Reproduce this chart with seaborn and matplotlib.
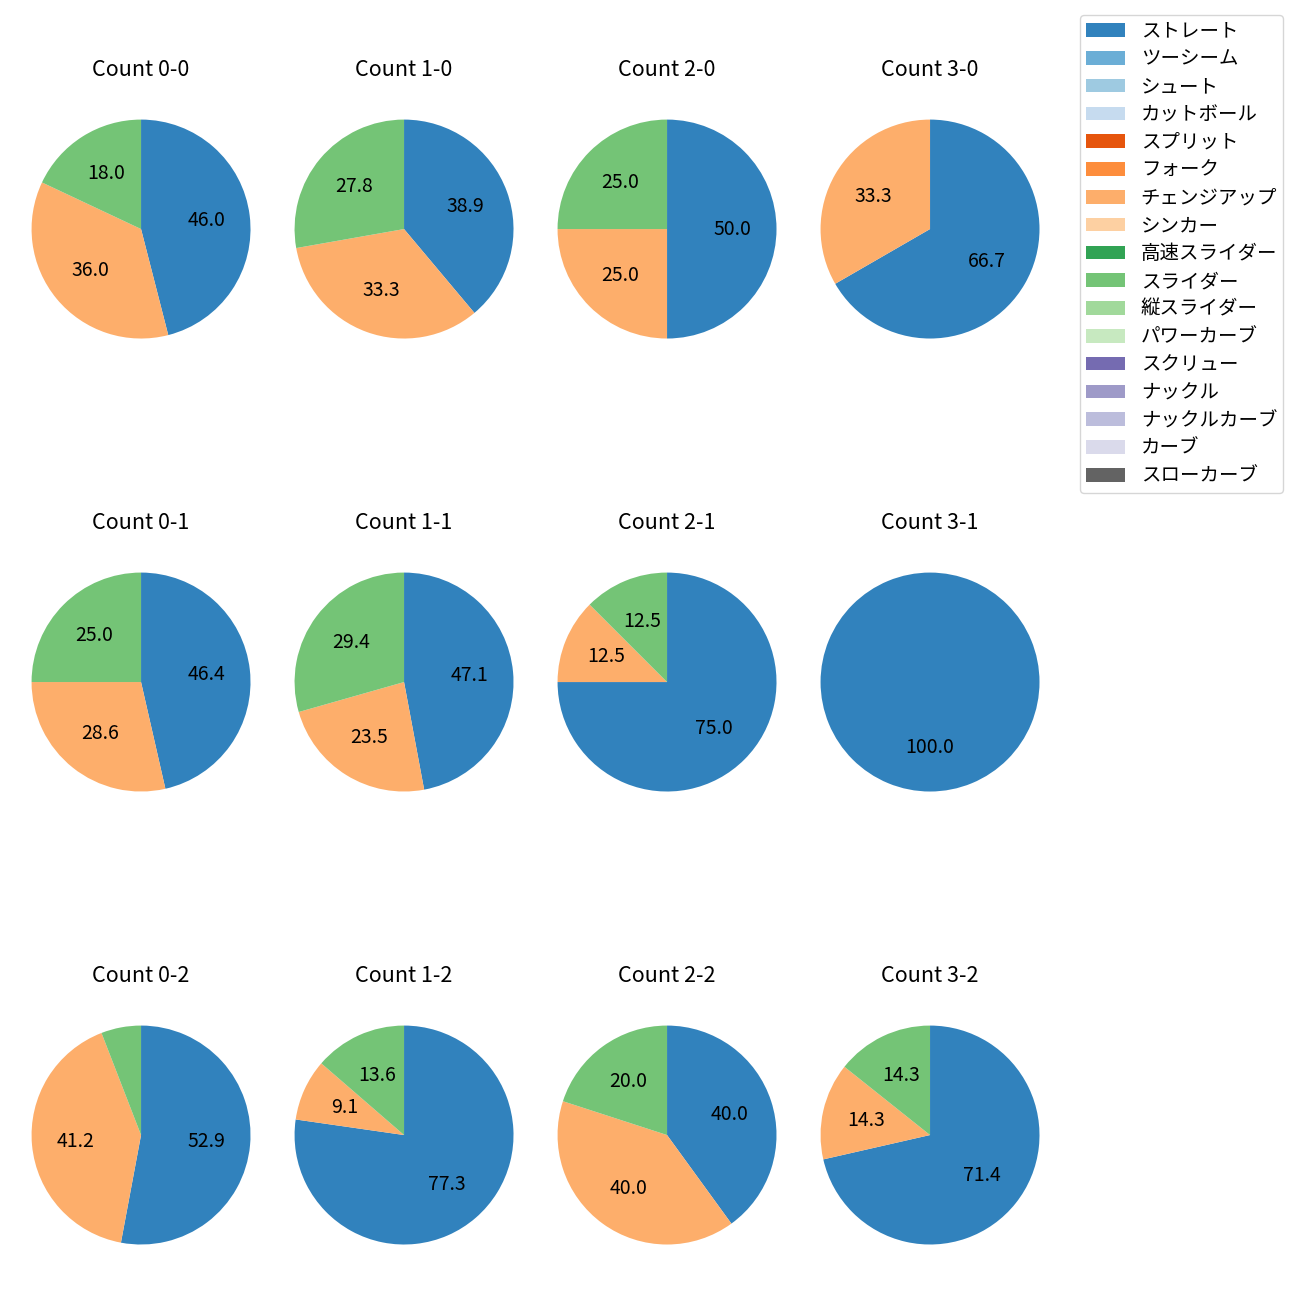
import numpy as np
import seaborn as sns
import matplotlib.pyplot as plt
from matplotlib.patches import Patch

plt.rcParams['font.family'] = ['Noto Sans CJK JP', 'DejaVu Sans']

# 球種 (legend order)
pitch_types = [
    "ストレート", "ツーシーム", "シュート", "カットボール", "スプリット",
    "フォーク", "チェンジアップ", "シンカー", "高速スライダー", "スライダー",
    "縦スライダー", "パワーカーブ", "スクリュー", "ナックル", "ナックルカーブ",
    "カーブ", "スローカーブ",
]

# pitch types actually thrown, in drawing order
used_types = ["ストレート", "チェンジアップ", "スライダー"]

counts = ["0-0", "1-0", "2-0", "3-0",
          "0-1", "1-1", "2-1", "3-1",
          "0-2", "1-2", "2-2", "3-2"]

# number of pitches per count: ストレート, チェンジアップ, スライダー
straight = [23, 7, 2, 2, 13, 8, 6, 1, 9, 17, 2, 5]
changeup = [18, 6, 1, 1, 8, 4, 1, 0, 7, 2, 2, 1]
slider = [9, 5, 1, 0, 7, 5, 1, 0, 1, 3, 1, 1]

palette = sns.color_palette("tab20c", len(pitch_types))
color_of = dict(zip(pitch_types, palette))


def autopct(p):
    # 小さすぎる割合はラベルなし
    return f"{p:.1f}" if p >= 8 else ""


fig, axes = plt.subplots(3, 4, figsize=(13, 13))
fig.subplots_adjust(left=0.0162, right=0.8077, bottom=0.0169, top=0.9338,
                    wspace=0.096, hspace=0.584)

for i, (ax, cnt) in enumerate(zip(axes.flat, counts)):
    vals = [straight[i], changeup[i], slider[i]]
    names = [n for n, v in zip(used_types, vals) if v > 0]
    vals = [v for v in vals if v > 0]
    ax.pie(vals, colors=[color_of[n] for n in names], startangle=90,
           counterclock=False, autopct=autopct,
           textprops={"fontsize": 14})
    ax.set_xlim(-1.096, 1.096)
    ax.set_ylim(-1.306, 1.306)
    ax.set_title(f"Count {cnt}", fontsize=15.5, pad=7.5)

handles = [Patch(facecolor=color_of[n], label=n) for n in pitch_types]
fig.legend(handles=handles, loc="upper right", bbox_to_anchor=(0.987, 0.9885),
           borderaxespad=0, fontsize=14, labelspacing=0.35, borderpad=0.3)

fig.savefig("out.png", dpi=100)
